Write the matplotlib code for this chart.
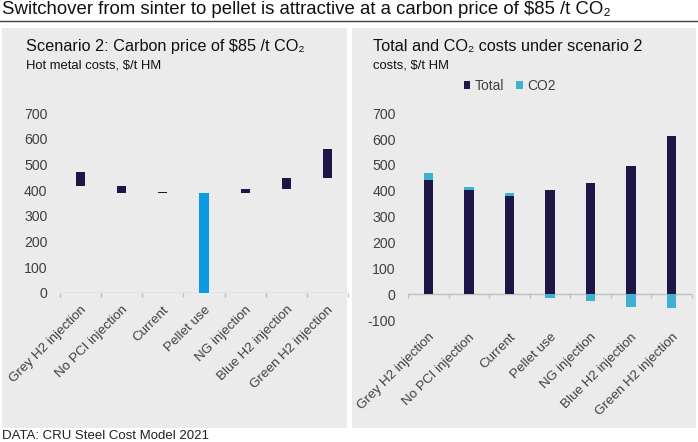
import matplotlib
matplotlib.use("Agg")
import matplotlib.pyplot as plt
from matplotlib.patches import Rectangle
import numpy as np

# ---------------- data ----------------
categories = ["Grey H2 injection", "No PCI injection", "Current", "Pellet use",
              "NG injection", "Blue H2 injection", "Green H2 injection"]
# left chart: floating bars (bottom, top)
left_bottom = [416, 390, 390, 0, 390, 403, 446]
left_top = [470, 416, 393, 390, 403, 446, 561]
highlight = "Pellet use"
# right chart
total_cost = [442, 403, 380, 403, 432, 495, 614]
co2_cost = [27, 13, 11, -15, -27, -48, -54]
left_yticks = [0, 100, 200, 300, 400, 500, 600, 700]
right_yticks = [-100, 0, 100, 200, 300, 400, 500, 600, 700]

title = "Switchover from sinter to pellet is attractive at a carbon price of $85 /t CO\u2082"
left_title = "Scenario 2: Carbon price of $85 /t CO\u2082"
left_sub = "Hot metal costs, $/t HM"
right_title = "Total and CO\u2082 costs under scenario 2"
right_sub = "costs, $/t HM"
source = "DATA: CRU Steel Cost Model 2021"

# ---------------- style ----------------
FONT = ["Liberation Sans", "DejaVu Sans"]
NAVY = "#1d1747"
BLUE = "#0b9be0"
CO2C = "#3fb0d2"
PANEL = "#ebebeb"
AXC = "#bfbfbf"
TXT = "#404040"

W, H = 698, 442
fig = plt.figure(figsize=(W / 100, H / 100), dpi=100)

def fx(px):
    return px / W

def fy(py):
    return 1 - py / H

# panels
for x0, x1 in [(2, 347), (352, 696)]:
    fig.patches.append(Rectangle((fx(x0), fy(428)), fx(x1 - x0), (428 - 28) / H,
                                 transform=fig.transFigure, facecolor=PANEL,
                                 edgecolor="none", zorder=-10))
# title + rule
fig.text(fx(2), fy(10), title, family=FONT, fontsize=13.4,
         color="#111111", va="center", ha="left")
fig.add_artist(plt.Line2D([0, 1], [fy(21), fy(21)], transform=fig.transFigure,
                          color="#404040", lw=1.0))
fig.text(fx(2), fy(436), source, family=FONT, fontsize=9.5,
         color="#222222", va="center", ha="left")

# panel titles
fig.text(fx(26), fy(47), left_title, family=FONT, fontsize=11.7,
         color="#111111", va="center")
fig.text(fx(26), fy(66), left_sub, family=FONT, fontsize=9.4,
         color="#111111", va="center")
fig.text(fx(373), fy(47), right_title, family=FONT, fontsize=11.7,
         color="#111111", va="center")
fig.text(fx(373), fy(66), right_sub, family=FONT, fontsize=9.4,
         color="#111111", va="center")

x = np.arange(len(categories))

def style_axis(ax, yticks, ylim, tick_px=4):
    ax.set_facecolor("none")
    ax.set_zorder(2)
    for s in ["top", "right", "left", "bottom"]:
        ax.spines[s].set_visible(False)
    ax.set_ylim(*ylim)
    ax.set_xlim(-0.5, len(categories) - 0.5)
    ax.set_yticks(yticks)
    ax.set_yticklabels([str(v) for v in yticks], family=FONT, fontsize=10.2, color=TXT)
    ax.tick_params(axis="y", length=0, pad=9)
    # category labels (below plot area)
    ax.set_xticks(x)
    ax.set_xticklabels(categories, rotation=45, ha="right", rotation_mode="anchor",
                       family=FONT, fontsize=9.6, color=TXT)
    ax.tick_params(axis="x", length=0, pad=8)
    # category axis line at zero with boundary tick marks
    ax.axhline(0, color=AXC, lw=1.0, zorder=1)
    ax_h = ax.get_position().height * H
    d = tick_px / ax_h * (ylim[1] - ylim[0])
    ax.vlines(np.arange(-0.5, len(categories) + 0.5, 1.0), -d, 0, color=AXC,
              lw=1.0, zorder=1, clip_on=False)

# ---------------- left chart ----------------
axL = fig.add_axes([fx(60), fy(292.7), fx(348 - 60), (292.7 - 113.3) / H])
style_axis(axL, left_yticks, (0, 700))
heights = [t - b for b, t in zip(left_bottom, left_top)]
colors = [BLUE if c == highlight else NAVY for c in categories]
axL.bar(x, heights, bottom=left_bottom, width=0.22, color=colors, zorder=2)

# ---------------- right chart ----------------
axR = fig.add_axes([fx(408), fy(320.1), fx(692 - 408), (320.1 - 113.3) / H])
style_axis(axR, right_yticks, (-100, 700))
b_total = axR.bar(x, total_cost, width=0.23, color=NAVY, zorder=2, label="Total")
co2_bottom = [t if c > 0 else 0 for t, c in zip(total_cost, co2_cost)]
b_co2 = axR.bar(x, co2_cost, bottom=co2_bottom, width=0.23, color=CO2C, zorder=2,
                label="CO2")

leg = fig.legend(handles=[b_total, b_co2], labels=["Total", "CO2"], loc="center",
                 bbox_to_anchor=(fx(510), fy(86)), ncol=2, frameon=False,
                 handlelength=0.45, handleheight=0.45, handletextpad=0.35,
                 columnspacing=0.85, prop={"family": FONT, "size": 10})
for t in leg.get_texts():
    t.set_color(TXT)

fig.savefig("out.png", dpi=100)
